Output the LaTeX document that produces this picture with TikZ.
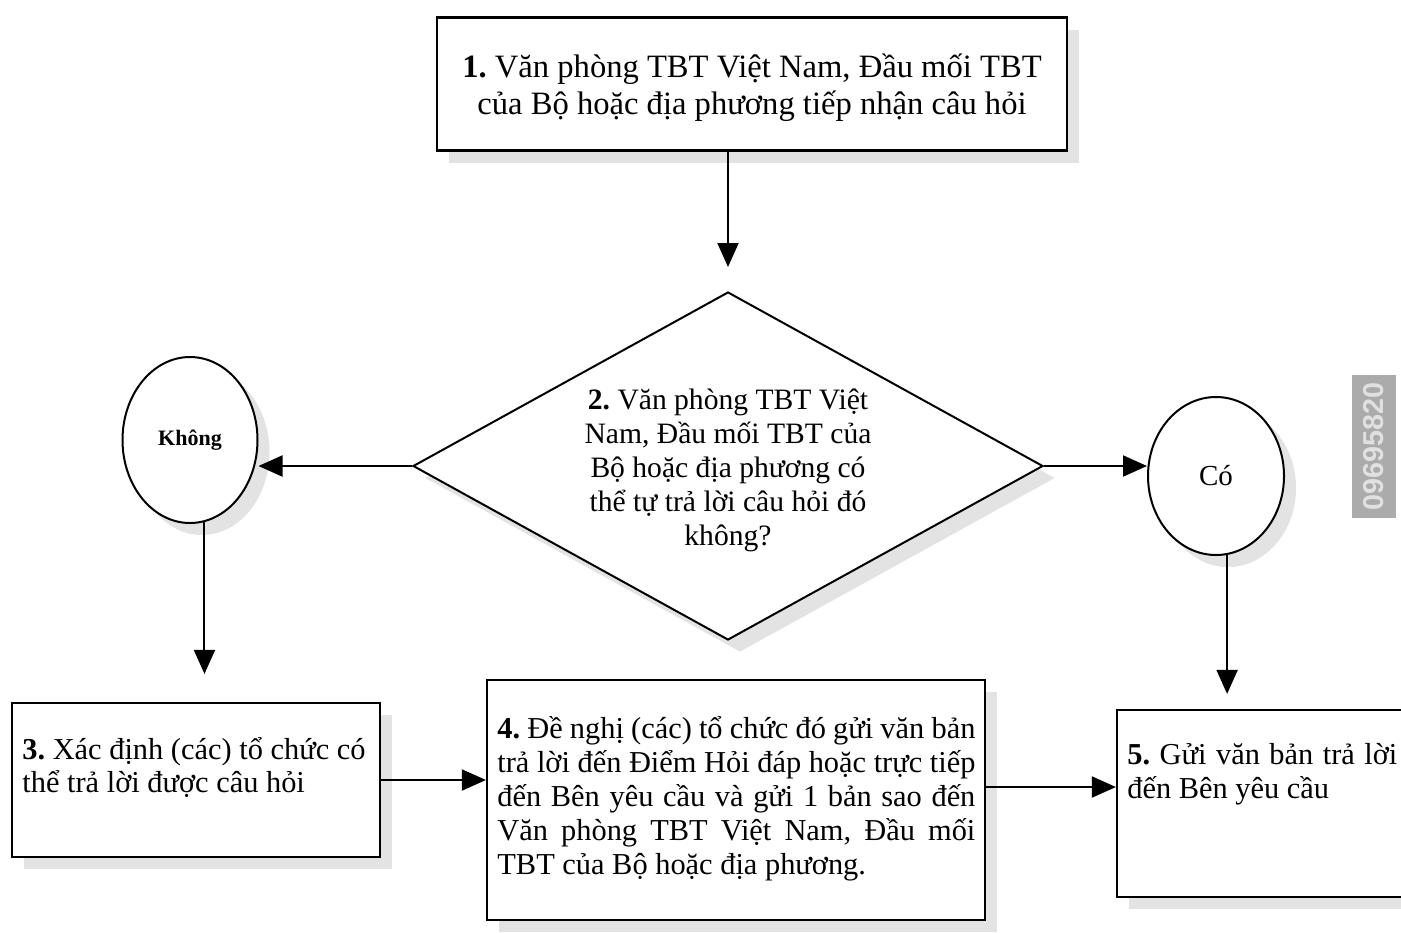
\documentclass[tikz,border=0pt]{standalone}
\usepackage{fontspec}
\setmainfont{Liberation Serif}
\setsansfont{Liberation Sans}
\usetikzlibrary{shapes.geometric,arrows.meta,shadows}
\newcommand{\jline}[2]{\makebox[#1][s]{#2}}
\frenchspacing
\begin{document}
\begin{tikzpicture}[x=0.5pt,y=-0.5pt,
  shad/.style={drop shadow={shadow xshift=6pt,shadow yshift=-6pt,fill=gray!22,opacity=1}},
  box/.style={draw,line width=1.1pt,fill=white,rectangle,inner sep=0pt,shad},
  dia/.style={draw,line width=1pt,fill=white,diamond,inner sep=0pt,minimum width=315pt,minimum height=174pt,shad},
  oval/.style={draw,line width=1pt,fill=white,ellipse,inner sep=0pt,shad},
  body/.style={inner sep=0pt,font=\fontsize{15.2}{17}\selectfont},
  arr/.style={line width=1pt,-{Triangle[length=12pt,width=10.5pt]}}]
\clip (0,0) rectangle (1401,932);
\fill[white] (0,0) rectangle (1401,932);

% box 1
\node[box,minimum width=315pt,minimum height=66.5pt] (b1) at (752,84) {};
\node[inner sep=0pt,align=center,font=\fontsize{16.3}{18.5}\selectfont] (t1) at (752,88)
  {\textbf{1.} Văn phòng TBT Việt Nam, Đầu mối TBT\\của Bộ hoặc địa phương tiếp nhận câu hỏi};

% decision
\node[dia] (d2) at (728,466) {};
\node[body,align=center,font=\fontsize{14.8}{17}\selectfont] (t2) at (728,470)
  {\textbf{2.} Văn phòng TBT Việt\\Nam, Đầu mối TBT của\\Bộ hoặc địa phương có\\thể tự trả lời câu hỏi đó\\không?};

% ellipses
\node[oval,minimum width=67.5pt,minimum height=83pt,font=\fontsize{11}{13}\selectfont\bfseries] (k) at (190,440) {Không};
\node[oval,minimum width=68pt,minimum height=79pt,font=\fontsize{14.5}{16}\selectfont] (c) at (1216,476) {Có};

% box 3
\node[box,minimum width=184pt,minimum height=77pt] (b3) at (196,780) {};
\node[body,anchor=north west,align=left,font=\fontsize{15.2}{16.5}\selectfont] (t3) at (22,737)
  {\textbf{3.} Xác định (các) tổ chức có\\thể trả lời được câu hỏi};

% box 4
\node[box,minimum width=249pt,minimum height=120pt] (b4) at (736,800) {};
\node[body,anchor=north west,align=left] (t4) at (497,716)
  {\jline{239pt}{\textbf{4.} Đề nghị (các) tổ chức đó gửi văn bản}\\
   \jline{239pt}{trả lời đến Điểm Hỏi đáp hoặc trực tiếp}\\
   \jline{239pt}{đến Bên yêu cầu và gửi 1 bản sao đến}\\
   \jline{239pt}{Văn phòng TBT Việt Nam, Đầu mối}\\
   TBT của Bộ hoặc địa phương.};

% box 5 (cut by the right edge)
\node[box,minimum width=156.5pt,minimum height=93.5pt] (b5) at (1273.5,803.5) {};
\node[body,anchor=north west,align=left] (t5) at (1127,743)
  {\jline{135pt}{\textbf{5.} Gửi văn bản trả lời}\\đến Bên yêu cầu};

% connectors
\draw[arr,shorten >=12pt] (b1.south -| d2.north) -- (d2.north);
\draw[arr] (d2.west) -- (k.east |- d2.west);
\draw[arr] (d2.east) -- (c.west |- d2.east);
\draw[arr,shorten >=14pt] (k.-80) -- (k.-80 |- b3.north);
\draw[arr,shorten >=7.5pt] (c.-82) -- (c.-82 |- b5.north);
\draw[arr] (b3.east) -- (b3.east -| b4.west);
\draw[arr] ([yshift=6.5pt]b4.east) -- ([yshift=6.5pt]b4.east -| b5.west);

% watermark
\node[fill=black!33,minimum width=22pt,minimum height=71.5pt,inner sep=0pt] (wm) at (1374,446.5) {};
\node[rotate=90,text=black!12,inner sep=0pt] (wmt) at (wm.center) {\resizebox{64pt}{!}{\sffamily\bfseries 09695820}};
\end{tikzpicture}
\end{document}
